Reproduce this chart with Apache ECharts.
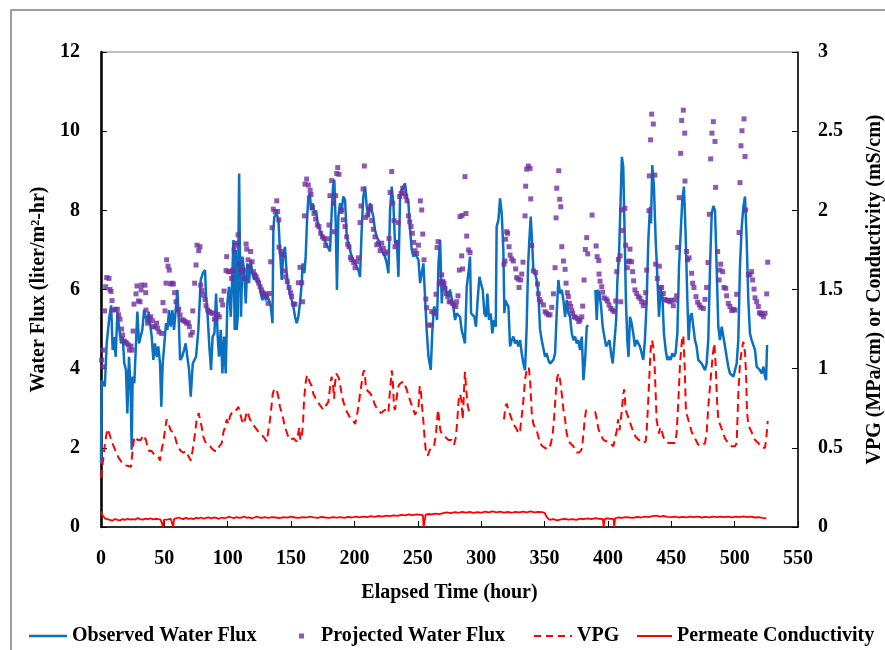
<!DOCTYPE html>
<html>
<head>
<meta charset="utf-8">
<script src="https://cdn.jsdelivr.net/npm/echarts@6/dist/echarts.min.js"></script>
<style>
  html, body { margin: 0; padding: 0; background: #fff; }
  #chart { width: 885px; height: 650px; }
</style>
</head>
<body>
<div id="chart"></div>
<script>
// [hour, liter/m2-hr]
const observedFlux = [
  [0,1.6],[0.5,3.7],[2,3.63],[3,3.55],[4.5,4.64],[6.6,5.31],[8,5.6],[9.2,4.47],[10.3,4.8],[11.6,4.3],[12.9,5.44],[14.5,4.98],[15.8,4.64],[17.1,4.81],[18.4,4.13],[19.7,3.97],[20.8,2.87],[22.1,4.3],[23.4,3.46],[24.2,1.95],[25,3.8],[26.3,3.63],[27.6,4.64],[28.7,5.44],[30,4.64],[31.3,4.81],[32.6,4.98],[34,5.48],[35.3,5.31],[36.6,5.15],[37.6,5.44],[38.7,5.15],[40,4.81],[41.3,4.22],[42.6,4.64],[43.9,4.3],[45.2,4.56],[46.6,4.13],[47.6,3.04],[48.7,4.13],[50,4.64],[51.3,5.15],[52.4,4.98],[53.7,5.48],[55,5.06],[56.3,5.48],[57.6,4.98],[59.2,5.57],[60.3,5.99],[61.3,5.31],[62.4,4.22],[64,4.3],[65.5,4.47],[66.8,4.64],[68.1,4.3],[69.5,3.97],[70.8,3.29],[72.4,4.13],[73.7,4.22],[75,4.3],[76.8,4.98],[78.7,6.24],[80.3,6.41],[82.1,6.49],[82.9,5.82],[84.2,5.31],[85.5,4.56],[86.8,3.97],[88.1,4.81],[89.5,4.89],[90.8,5.9],[92.1,4.81],[93.1,4.3],[94.5,4.98],[95.8,3.88],[97.1,4.81],[98.4,3.88],[99.7,5.65],[101,6.07],[102.4,5.31],[103.4,6.16],[104.5,7.25],[105.5,4.98],[106.3,7.0],[107.1,4.98],[107.9,5.31],[109,8.93],[109.7,6.66],[110.5,5.31],[111.6,6.83],[112.9,6.49],[114.2,5.65],[115.5,6.66],[116.8,6.16],[118.1,6.75],[119.4,6.41],[120.8,6.24],[122.1,6.41],[123.4,6.16],[124.7,6.24],[126,5.9],[127.4,5.73],[128.7,5.9],[130,5.73],[131.3,5.82],[132.6,5.73],[134,5.57],[135.3,5.15],[136,7.5],[136.8,7.84],[138.6,7.92],[140,7.76],
  [141.2,7.0],[142.6,6.24],[143.9,6.91],[145.2,7.08],[146.5,6.41],[147.8,6.07],[149.1,5.9],[150.5,5.73],[151.8,5.57],[153.1,5.31],[154.4,5.15],[155.7,5.31],[157,5.65],[158.4,6.16],[159.1,6.66],[160.5,6.41],[161.5,6.83],[162.6,7.76],[163.6,8.35],[164.9,8.43],[165.7,8.0],[167,8.18],[168.4,7.92],[169.7,8.0],[171,7.67],[172.3,7.67],[173.6,7.42],[174.9,7.42],[176.2,7.25],[177.6,7.25],[178.9,7.08],[180.7,6.96],[182,7.92],[183.1,8.6],[184.1,8.77],[185.2,7.67],[186.2,5.99],[187.3,7.84],[188.6,8.18],[189.9,8.0],[191.2,8.35],[192.6,8.26],[193.9,7.33],[195.2,7.17],[196.5,7.0],[197.8,6.83],[199.1,6.75],[200.5,6.66],[201.8,6.58],[203.1,6.49],[204.4,6.32],[205.7,7.5],[207,8.35],[208.4,8.6],[209.7,8.09],[211,7.84],[212.3,8.18],[213.6,8.22],[214.9,7.84],[216.2,7.5],[217.6,7.33],[218.9,7.25],[220.2,7.08],[221.5,7.0],[222.8,6.91],[224.1,6.83],[225.5,6.66],[226.8,6.41],[228.1,8.0],[229.4,8.6],[230.7,8.18],[232,7.17],[233.4,7.25],[234.7,6.32],[236,8.35],[237.3,8.51],[238.6,8.6],[239.9,8.68],[241.2,8.35],[242.6,8.18],[243.9,7.5],[245.2,7.0],[246.5,6.83],[247.8,6.91],[249.1,6.83],[250.5,6.75],[251.8,6.16],[254.4,6.66],[255.7,5.82],[257,4.98],[258.4,4.3],[260.2,3.97],[261.5,4.98],[262.8,5.57],[264.1,5.48],[265.2,5.23],[266.3,6.66],[267.6,7.25],[268.9,5.65],[270.2,6.24],[271.5,6.07],[272.8,5.9],[274.2,5.82],[275.4,6.0],
  [276.7,5.99],[278,5.57],[279.4,5.23],[280.7,5.4],[282,5.4],[283.3,5.31],[284.6,4.98],[285.9,4.98],[287.2,4.64],[288.6,6.07],[289.9,6.41],[291.2,6.83],[292,5.4],[293.3,5.4],[294.6,5.31],[295.9,5.06],[297.2,5.73],[298.6,6.32],[299.9,6.15],[301.2,5.99],[302.5,5.4],[303.8,5.31],[304.9,5.9],[306.2,5.23],[307.5,5.4],[308.8,4.89],[310.1,5.23],[311.5,5.06],[312.2,7.59],[313.6,7.76],[314.9,8.3],[316.2,7.92],[317.5,7.0],[318.3,5.4],[319.1,5.73],[320.1,5.65],[321.5,5.57],[322.8,4.56],[324.1,4.72],[325.4,4.81],[326.7,4.64],[328,4.72],[329.3,4.56],[330.7,4.72],[332,4.39],[333.3,4.13],[334.6,3.96],[335.9,5.06],[337,6.58],[338,7.25],[339.1,7.84],[340.1,7.25],[341.2,6.49],[342.5,6.41],[343.8,6.24],[345.1,5.9],[346.5,4.98],[347.8,4.72],[349.1,4.51],[350.4,4.3],[351.7,4.39],[353,4.22],[354.3,4.13],[355.7,4.09],[357,4.22],[358.3,4.39],[359.6,5.4],[360.9,6.24],[362.2,5.9],[363.6,5.99],[364.9,5.73],[366.2,5.31],[367.5,5.73],[368.8,5.4],[370.1,5.31],[371.5,4.89],[372.8,4.72],[374.1,4.81],[375.4,4.64],[376.7,4.72],[378,4.47],[379.4,4.81],[380.7,3.71],[382,4.22],[383.3,5.06],[384.3,5.1],[387,null],[390.1,5.99],[391.2,5.23],[392.2,5.99],[393.3,5.9],[394.6,5.57],[395.9,5.06],[397.2,4.81],[398.6,4.56],[399.9,4.56],[401.2,4.72],[402.5,4.39],[403.8,4.13],[405.1,4.13],[406.5,5.23],[407.5,6.24],[408.8,6.91],[410.1,8.35],[411,9.35],
  [412.1,9.1],[413.2,7.42],[414.2,5.73],[415.3,4.72],[416.3,4.3],[417.4,5.31],[418.7,5.15],[420,4.89],[421.3,4.56],[422.7,4.72],[424,4.77],[425.3,4.56],[426.6,4.39],[427.9,4.22],[429.2,4.72],[430.6,5.73],[431.9,7.25],[433.2,8.09],[434,7.67],[435,9.14],[436.3,8.6],[437.7,7.25],[439,6.32],[440.3,5.31],[441.6,5.99],[442.9,5.9],[444.2,4.89],[445.6,4.47],[446.9,4.22],[448.2,4.3],[449.5,4.22],[450.8,4.39],[452.1,4.3],[453.4,4.39],[454.8,4.89],[456.1,6.58],[457.4,7.42],[458.7,8.26],[460,8.6],[461.3,7.42],[462.7,5.73],[463.7,4.72],[464.8,5.31],[466.1,5.4],[467.4,5.06],[468.7,4.72],[470,4.56],[471.3,4.22],[472.7,4.22],[474,4.13],[475.3,4.05],[476.6,3.96],[477.9,4.13],[479.2,4.72],[480.6,6.58],[481.9,7.92],[483.2,8.11],[484.5,8.0],[485.8,6.58],[487.1,5.06],[488.4,4.72],[489.8,5.06],[491.1,5.06],[492.4,4.56],[493.7,4.3],[495,4.05],[496.3,3.88],[497.7,3.84],[499,3.8],[500.3,3.84],[501.6,4.13],[502.9,4.72],[504.2,6.58],[505.6,7.59],[506.9,8.09],[508.2,8.35],[509.5,7.25],[510.8,5.73],[512.1,4.89],[513.4,4.72],[514.7,4.72],[516.1,4.47],[517.4,4.05],[518.7,4.05],[520,3.96],[521.3,3.88],[522.7,4.05],[524,3.8],[524.8,3.71],[525.6,4.6]
];

// [hour, liter/m2-hr]
const projectedFlux = [
  [0.5,4.22],[1.3,4.47],[1.6,4.05],[2.9,5.46],[3.7,6.07],[4.5,6.3],[6.3,6.28],[7.1,6.0],[7.9,5.95],[8.7,5.72],[9.7,5.48],[11.3,5.5],[12.9,5.5],[13.9,5.36],[15,5.25],[16.3,5.0],[17.1,4.85],[18.1,4.7],[19.2,4.67],[20.3,4.64],[21.6,4.6],[22.4,4.47],[23.7,4.57],[24.5,4.47],[25.3,4.95],[26,5.63],[27.6,5.89],[28.4,6.09],[29.5,5.71],[30.8,5.69],[31.6,5.99],[32.1,6.11],[34.7,6.11],[35.3,5.92],[35.5,5.48],[36.8,5.15],[38.1,5.27],[39.2,5.31],[40.5,5.21],[41.3,5.06],[42.6,5.06],[43.9,5.15],[44.7,5.02],[45.8,4.93],[47.9,4.89],[48.9,5.67],[50.5,5.46],[51.3,6.16],[51.8,6.75],[52.9,6.59],[53.9,6.49],[55,6.14],[56,6.16],[57.1,6.14],[58.1,5.92],[59.2,5.69],[60.3,5.48],[61.3,5.5],[62.4,5.36],[63.7,5.23],[65,5.23],[66.3,5.19],[67.6,5.15],[68.9,5.16],[69.7,5.06],[70.8,4.85],[72.1,4.92],[72.4,5.46],[73.9,6.16],[75,6.62],[75.8,7.12],[77.1,6.98],[78.1,7.08],[78.7,6.11],[79.7,5.97],[80.8,5.86],[82.1,5.75],[82.9,5.59],[84.2,5.48],[85.5,5.44],[86.8,5.41],[88.1,5.4],[89.5,5.25],[90.8,5.27],[92.1,5.37],[93.4,5.31],[95,5.73],[96,5.61],[97.1,5.96],[98.7,6.48],[99.2,6.83],[100.5,6.45],[101.8,6.45],[103.1,6.28],[103.9,6.48],[105,7.0],[106,7.12],[107.1,7.17],[108.2,7.38],[109.2,6.66],[110.3,6.51],[111,6.45],[112.4,6.49],[113.4,6.28],[114.5,7.15],[115,7.02],[116,6.75],[117.1,6.58],[118.1,6.96],[119.2,6.7],[120.3,6.45],[121.3,6.37],[122.4,6.32],[123.4,6.24],[124.5,6.16],[125.5,6.07],[126.6,5.99],[127.6,5.92],[128.7,5.89],[129.7,5.88],[130.8,5.84],[131.8,5.65],[132.9,5.9],[133.9,6.7],[135,7.56],[136,8.03],[137.4,7.97],[138.7,8.24],[139.4,7.97],[140.3,7.76],[140.5,7.07],
  [142,6.96],[143.1,6.87],[144.7,6.47],[145.7,6.32],[147,6.2],[148.4,6.05],[149.7,5.92],[150.5,5.82],[151.8,5.63],[153.1,5.63],[155.7,6.17],[157,6.56],[158.4,6.17],[159.1,5.69],[160.5,7.86],[161,8.66],[162.3,8.79],[163.6,8.64],[165,8.51],[165.7,8.4],[166.8,8.08],[168.1,7.92],[169.4,7.78],[170.7,7.63],[172,7.59],[173.4,7.42],[174.7,7.33],[176,7.29],[177.3,7.11],[178.6,7.28],[179.9,7.63],[180.7,8.37],[182,8.75],[183.4,8.18],[184.1,7.46],[185.2,8.37],[186,8.93],[186.8,9.08],[187.8,8.91],[189.4,7.97],[189.9,8.01],[191.2,7.76],[192.6,7.59],[193.9,7.33],[194.7,7.14],[195.7,7.08],[196.8,6.81],[197.8,6.75],[199.4,6.68],[200.5,6.55],[201.8,6.7],[203.1,6.8],[204.4,7.69],[205.2,8.11],[206.8,8.54],[207.8,9.12],[208.9,7.82],[210.5,7.88],[211.8,8.01],[212.8,8.09],[213.6,7.74],[214.9,7.52],[216.2,7.33],[217.6,7.13],[218.9,7.17],[220.2,6.98],[221.5,7.17],[222.8,7.04],[224.1,6.91],[225.5,6.95],[227.3,7.29],[228.1,8.45],[229.4,8.98],[230.2,8.18],[231.2,7.74],[232,7.08],[233.4,7.17],[234.7,7.69],[235.7,8.35],[236.8,8.43],[238.1,8.56],[239.1,8.43],[240.5,8.35],[241.5,8.24],[242.6,7.86],[243.6,7.71],[244.7,7.59],[245.7,7.42],[246.8,7.19],[247.8,6.98],[249.1,6.91],[250.5,7.12],[252,8.24],[253.1,8.01],[253.9,7.4],[254.9,6.75],[256.3,5.76],[257,5.54],[258.4,5.1],[260.5,5.1],[261,5.44],[262.8,5.4],[264.4,5.88],[265.2,7.06],[266,7.21],[267,6.14],[268.1,6.2],[268.9,6.37],[269.7,6.2],[270.7,6.16],[271.5,6.03],[272.6,5.9],[273.6,5.82],[274.7,5.69],[276,5.69],[277.3,5.65],[278.6,5.6],
  [280,5.57],[280.7,5.69],[281.7,5.84],[282.8,6.49],[283.3,7.84],[284.6,6.85],[284.9,7.87],[285.4,6.52],[287.2,8.85],[288,7.92],[288.6,7.35],[290.1,7.0],[291.2,6.93],
  [318,6.64],[318.8,6.72],[319.3,7.27],[320.1,7.46],[320.9,7.42],[322,7.08],[322.8,6.87],[324.1,6.77],[325.4,6.72],[327.2,6.52],[328,6.3],[329.3,6.26],[329.9,6.05],[331.2,6.24],[332,6.39],[333,6.69],[334.6,7.86],[335.1,8.61],[335.9,9.04],[337.2,9.12],[338.6,9.06],[339.1,8.29],[339.9,7.11],[341.2,6.47],[343,6.43],[344.4,6.14],[345.1,5.89],[345.9,5.75],[347,5.69],[349.1,5.61],[350.4,5.44],[351.7,5.4],[353,5.36],[354.3,5.36],[355.7,5.55],[357,5.89],[358.3,6.55],[359.1,7.81],[359.6,8.56],[361.2,9.0],[362,8.28],[362.8,8.09],[363.6,7.08],[364.9,6.72],[366.2,6.51],[367,6.16],[368,5.92],[368.8,5.82],[369.6,5.65],[370.7,5.57],[371.5,5.46],[372.2,5.4],[373.3,5.31],[374.3,5.3],[375.9,5.27],[377,5.19],[378,5.23],[379.4,5.31],[380.1,5.58],[381.2,6.24],[382.2,7.01],[383.3,7.31],[384.1,6.9],[387.5,7.88],[390.7,7.1],[391.5,6.83],[392.8,6.73],[393,6.39],[393.8,6.21],[395.1,6.07],[395.9,5.93],[397,5.79],[398.6,5.76],[399.6,5.71],[400.9,5.61],[402.3,5.52],[403.6,5.48],[404.9,5.44],[406.2,5.71],[407,6.45],[408.3,6.76],[409.6,6.85],[410.1,5.69],
  [410.8,8.01],[411.6,7.49],[413.4,8.05],[414,7.12],[415.3,6.55],[416.1,6.7],[416.9,6.72],[417.4,7.02],[418.7,6.7],[419.5,6.45],[420.3,6.22],[421.3,5.99],[422.7,5.9],[424,5.82],[425.3,5.78],[426.6,5.69],[427.9,5.59],[429.2,5.67],[429.8,5.92],[430.6,6.49],[432.4,7.99],[432.7,8.87],[433.7,9.78],[434.5,10.43],[435.8,10.18],[437.1,8.89],[437.7,6.64],[439,6.28],[440.6,6.59],[441.1,6.05],[442.4,6.05],[443.7,5.9],[445,5.75],[446.3,5.73],[447.7,5.72],[449,5.69],[450.3,5.73],[451.6,5.59],[452.9,5.73],[454.2,5.84],[455,7.06],[456.3,8.32],[457.4,9.44],[458.2,10.27],[459.5,10.53],[460.6,9.95],[460.8,8.74],[462.1,6.96],[462.9,6.75],[464,6.8],[466.1,6.41],[466.9,6.16],[467.9,6.05],[469.5,5.82],[470.8,5.68],[472.1,5.61],[473.4,5.55],[475.3,5.52],[476.6,5.75],[477.9,6.05],[479,6.68],[480,7.9],[481.1,9.3],[482.1,9.95],[483.2,10.24],[484.5,9.74],[485,8.58],[486.6,6.96],[487.7,6.24],[488.4,6.49],[489,6.64],[490.6,6.45],[491.6,6.05],[493,6.03],[493.7,5.84],[495,5.65],[496.3,5.57],[497.7,5.47],[499,5.5],[500.3,5.48],[501.6,5.88],[503.5,7.44],[504.2,8.7],[505,9.63],[505.8,10.01],[507.4,10.31],[508.2,9.36],[508.7,8.01],[510.8,6.37],[512.1,6.37],[513.4,6.45],[514.2,6.24],[515.3,6.01],[516.1,5.79],[517.4,5.69],[518.7,5.57],[519.5,5.41],[520.6,5.4],[521.3,5.37],[522.7,5.31],[524,5.4],[525.3,5.89],[526.1,6.69]
];

// [hour, MPa/cm]
const vpg = [
  [0,0.31],[1.3,0.4],[3.2,0.53],[5,0.62],[6.6,0.59],[8.4,0.54],[11,0.49],[13.7,0.44],[16.3,0.41],[19,0.39],[21.6,0.385],[23.7,0.38],[25,0.49],[26.3,0.57],[27.6,0.58],[29,0.55],[30.3,0.54],[31.6,0.55],[32.9,0.58],[34.2,0.59],[35.5,0.55],[36.8,0.5],[38.1,0.48],[40,0.48],[41.3,0.48],[42.6,0.45],[43.9,0.45],[45.3,0.44],[46.6,0.42],[47.9,0.49],[49.2,0.54],[50.5,0.61],[51.8,0.68],[53.4,0.65],[55,0.61],[56.6,0.6],[58.1,0.58],[59.7,0.53],[61.3,0.5],[62.9,0.48],[65,0.47],[67.1,0.48],[68.9,0.45],[70.8,0.42],[72.4,0.49],[74.2,0.59],[75.5,0.68],[77.1,0.72],[78.2,0.72],[79.5,0.63],[80.8,0.57],[82.1,0.54],[84,0.52],[86,0.51],[88.1,0.49],[90,0.48],[91.8,0.48],[93.4,0.51],[95.3,0.53],[96.6,0.6],[97.9,0.63],[99.2,0.68],[100.5,0.65],[101.8,0.7],[103.1,0.72],[104.5,0.74],[105.8,0.75],[107.1,0.74],[108.4,0.76],[109.7,0.72],[111,0.68],[112.4,0.65],[113.7,0.68],[115,0.73],[116.3,0.71],[117.6,0.68],[119.5,0.65],[121.6,0.63],[123.4,0.61],[125.5,0.59],[128.2,0.57],[130.8,0.54],[132.1,0.61],[133.4,0.68],[134.5,0.76],[135.5,0.84],[136.6,0.87],[137.6,0.87],[138.6,0.87],[140,0.82],
  [141.2,0.76],[142.6,0.72],[143.9,0.68],[145.2,0.63],[146.5,0.6],[147.8,0.57],[149.1,0.55],[150.5,0.54],[151.8,0.56],[153.1,0.55],[154.4,0.54],[155.7,0.55],[156.5,0.63],[157.3,0.55],[158.4,0.57],[159.4,0.65],[160.2,0.8],[161.5,0.91],[162.6,0.96],[163.6,0.95],[165,0.91],[166.3,0.89],[167.6,0.84],[168.9,0.82],[170.2,0.8],[171.5,0.79],[172.8,0.77],[174.1,0.76],[175.5,0.74],[176.8,0.76],[178.1,0.77],[179.4,0.79],[180.2,0.84],[181,0.91],[182,0.95],[183.1,0.9],[183.9,0.81],[184.7,0.91],[185.7,0.97],[186.8,0.98],[187.8,0.94],[188.9,0.89],[189.9,0.84],[191.2,0.79],[192.6,0.76],[193.9,0.73],[195.2,0.71],[196.5,0.69],[197.8,0.68],[199.1,0.67],[200.5,0.65],[201.8,0.7],[203.1,0.76],[204.4,0.84],[205.7,0.91],[206.8,0.97],[207.6,0.99],[208.4,0.95],[209.1,0.87],[210.5,0.88],[211.8,0.85],[213.1,0.84],[214.4,0.82],[215.7,0.78],[217,0.76],[218.4,0.74],[219.7,0.73],[221,0.72],[222.3,0.73],[224.1,0.74],[225.5,0.74],[226.8,0.72],[227.6,0.82],[228.6,0.91],[229.4,0.99],[230.2,0.93],[231.2,0.76],[232,0.74],[233.1,0.8],[234.1,0.87],[235.2,0.9],[236.8,0.91],[238.6,0.92],[239.9,0.91],[241.2,0.87],[242.6,0.83],[243.9,0.8],[245.2,0.77],[246.5,0.74],[247.8,0.71],[249.1,0.71],[250.5,0.75],[251.5,0.89],[252.3,0.87],[253.1,0.78],[254.1,0.7],[254.9,0.61],[255.7,0.53],[256.5,0.47],[257.8,0.45],[259.1,0.48],[260.5,0.5],[261.8,0.51],[262.8,0.51],[263.6,0.55],[264.4,0.59],[265.2,0.68],[266,0.74],[266.8,0.68],[267.8,0.61],[268.9,0.59],[270.2,0.58],[271.5,0.57],[272.8,0.56],[274.1,0.55],[275.4,0.54],
  [276.7,0.55],[278.6,0.52],[280.1,0.57],[281.2,0.68],[282.2,0.8],[283.3,0.84],[284.4,0.8],[285.4,0.68],[285.9,0.76],[286.7,0.91],[287.2,0.98],[288,0.89],[289.1,0.78],[290.1,0.74],[291.2,0.71],[300,null],
  [318,0.68],[319.1,0.76],[320.1,0.78],[321.5,0.74],[322.8,0.71],[324.1,0.68],[325.4,0.65],[326.7,0.64],[328,0.62],[329.3,0.59],[330.7,0.61],[332,0.7],[333.3,0.8],[334.6,0.93],[335.9,0.99],[337.5,1.01],[338.6,0.93],[339.9,0.72],[341.2,0.65],[342.5,0.63],[343.8,0.61],[345.1,0.57],[346.5,0.53],[348.3,0.51],[350.4,0.5],[352.2,0.49],[353.8,0.5],[355.1,0.53],[356.5,0.59],[357.8,0.72],[359.1,0.87],[360.1,0.95],[361.2,0.97],[362.2,0.93],[363.6,0.84],[364.9,0.74],[366.2,0.68],[367.5,0.59],[368.8,0.55],[370.1,0.53],[371.5,0.52],[372.8,0.51],[374.1,0.49],[375.4,0.47],[377,0.47],[378.6,0.48],[379.6,0.5],[380.7,0.59],[381.7,0.68],[382.8,0.74],[383.6,0.72],[387,null],
  [389.9,0.73],[391.2,0.68],[392.5,0.62],[393.8,0.59],[395.1,0.57],[396.5,0.55],[397.8,0.54],[399.1,0.54],[400.4,0.53],[401.7,0.53],[403,0.52],[404.3,0.51],[405.7,0.51],[407,0.61],[408,0.68],[409.1,0.61],[410.1,0.62],[410.8,0.72],[412.1,0.84],[412.9,0.87],[414,0.74],[415.3,0.71],[416.6,0.68],[417.9,0.67],[419.2,0.62],[420.6,0.59],[421.9,0.57],[423.2,0.56],[424.5,0.55],[425.8,0.54],[427.1,0.53],[428.4,0.52],[429.8,0.54],[430.6,0.61],[431.6,0.76],[432.7,0.95],[433.7,1.12],[434.8,1.18],[435.8,1.14],[436.9,1.01],[437.7,0.84],[438.4,0.68],[439.2,0.64],[440.3,0.59],[441.3,0.63],[442.4,0.61],[443.7,0.57],[445,0.55],[446.3,0.54],[447.7,0.53],[449,0.53],[450.3,0.53],[451.6,0.52],[452.9,0.53],[454.2,0.59],[455.6,0.8],[456.9,1.03],[458.4,1.18],[459.5,1.21],[460.6,1.01],[461.6,0.72],[462.7,0.7],[463.7,0.67],[464.8,0.64],[466.1,0.6],[467.4,0.58],[468.7,0.56],[470,0.54],[471.3,0.52],[472.7,0.52],[474,0.51],[475.3,0.51],[476.6,0.53],[477.9,0.59],[479.2,0.76],[480.6,0.89],[481.9,1.01],[482.9,1.1],[484,1.16],[485,1.03],[486.1,0.8],[487.1,0.68],[488.4,0.65],[489.8,0.62],[491.1,0.59],[492.4,0.56],[493.7,0.55],[495,0.53],[496.3,0.52],[497.7,0.51],[499,0.5],[500.3,0.51],[501.6,0.53],[502.9,0.84],[504.2,1.03],[505.6,1.12],[506.9,1.17],[508.2,1.1],[509,0.97],[509.8,0.72],[510.8,0.65],[512.1,0.62],[513.4,0.6],[514.7,0.57],[516.1,0.55],[517.4,0.54],[518.7,0.53],[520,0.52],[521.3,0.5],[522.7,0.49],[524,0.5],[525.3,0.59],[526.1,0.67]
];

// [hour, mS/cm]
const conductivity = [
  [0,0.10],[1,0.075],[3,0.055],[5,0.05],[7,0.045],[9,0.04],[11,0.05],[13,0.045],[15,0.042],[17,0.05],[19,0.045],[21,0.052],[23,0.046],[25,0.05],[27,0.047],[29,0.056],[31,0.05],[33,0.047],[35,0.053],[37,0.049],[39,0.055],[41,0.048],[43,0.052],[45,0.05],[47,0.047],[48.5,0.045],[49,0],[49.6,0.045],[51,0.05],[53,0.048],[55,0.052],[56.5,0.046],[57,0],[57.6,0.05],[59,0.056],[61,0.06],[63,0.054],[65,0.05],[67,0.058],[69,0.051],[71,0.055],[73,0.05],[75,0.058],[77,0.054],[79,0.06],[81,0.052],[83,0.058],[85,0.061],[87,0.055],[89,0.06],[91,0.057],[93,0.052],[95,0.06],[97,0.056],[99,0.058],[101,0.066],[103,0.06],[105,0.056],[107,0.063],[109,0.058],[111,0.06],[113,0.066],[115,0.058],[117,0.061],[119,0.055],[121,0.06],[123,0.066],[125,0.06],[127,0.057],[129,0.062],[132,0.058],[135,0.063],[138,0.06],[141,0.056],[144,0.062],[147,0.059],[150,0.065],[153,0.06],[156,0.057],[159,0.063],[162,0.06],[165,0.066],[168,0.061],[171,0.058],[174,0.064],[177,0.06],[180,0.057],[183,0.063],[186,0.059],[189,0.062],[192,0.058],[195,0.064],[198,0.06],[201,0.066],[204,0.061],[207,0.065],[210,0.062],[213,0.068],[216,0.064],[219,0.07],[222,0.066],[225,0.072],[228,0.068],[231,0.074],[234,0.07],[237,0.077],[240,0.073],[243,0.079],[246,0.075],[249,0.08],[252,0.077],[254,0.075],[254.6,0],[255.6,0],[256.2,0.078],[258,0.082],[261,0.079],[264,0.085],[267,0.081],[270,0.088],[273,0.092],[276,0.087],[279,0.094],[282,0.09],[285,0.096],[288,0.091],[291,0.095],[294,0.089],[297,0.094],[300,0.09],[303,0.097],[306,0.092],[309,0.098],[312,0.093],[315,0.097],[318,0.091],[321,0.095],[324,0.09],[327,0.096],[330,0.092],[333,0.097],[336,0.093],[339,0.098],[342,0.092],[345,0.096],[348,0.094],[350,0.09],[352,0.06],[354,0.045],[357,0.05],[360,0.042],[363,0.048],[366,0.052],[369,0.046],[372,0.05],[375,0.045],[378,0.053],[381,0.049],[384,0.055],[387,0.05],[390,0.056],[393,0.052],[396,0.05],[396.6,0],[397.4,0.05],[399,0.055],[402,0.052],[404.5,0.05],[405,0],[405.6,0.055],[408,0.06],[411,0.058],[414,0.063],[417,0.06],[420,0.058],[423,0.064],[426,0.06],[429,0.066],[432,0.062],[435,0.068],[438,0.072],[441,0.066],[444,0.07],[447,0.064],[450,0.062],[453,0.066],[456,0.06],[459,0.064],[462,0.061],[465,0.066],[468,0.062],[471,0.065],[474,0.06],[477,0.064],[480,0.061],[483,0.066],[486,0.063],[489,0.066],[492,0.062],[495,0.065],[498,0.061],[501,0.066],[504,0.063],[507,0.067],[510,0.062],[513,0.065],[516,0.06],[519,0.063],[522,0.058],[525,0.054]
];

const FONT = "'Liberation Serif', 'Times New Roman', serif"
const labelText = { fontFamily: FONT, fontWeight: 'bold', fontSize: 20, color: '#000' }

const BLUE = '#0a70c2'
const PURPLE = '#7030a0'
const RED = '#ff0000'

// one legend block per entry, so each icon can have its own size
const legendItem = (name, left, w, h, icon, extra = {}) => ({
  left,
  top: 626,
  padding: 0,
  itemWidth: w,
  itemHeight: h,
  textStyle: { ...labelText },
  data: [{ name, icon }],
  ...extra,
})

const chart = echarts.init(document.getElementById('chart'))

chart.setOption({
  animation: false,
  backgroundColor: '#fff',
  textStyle: { fontFamily: FONT },
  graphic: [
    {
      type: 'rect',
      x: 11,
      y: 10,
      shape: { x: 0, y: 0, width: 900, height: 700 },
      style: { fill: 'none', stroke: '#7f7f7f', lineWidth: 1.5 },
      silent: true,
      z: -10,
    },
  ],
  grid: {
    left: 101,
    right: 87,
    top: 52,
    bottom: 123,
    outerBoundsMode: 'none',
    show: true,
    borderColor: '#808080',
    borderWidth: 1,
  },
  legend: [
    legendItem('Observed Water Flux', 29, 38, 2.5, 'rect'),
    legendItem('Projected Water Flux', 299, 5, 5, 'rect', { textStyle: { ...labelText, padding: [0, 0, 0, 12] } }),
    legendItem('VPG', 534, 38, 2, 'path://M0,0h7v2h-7z M12,0h7v2h-7z M24,0h7v2h-7z M36,0h2v2h-2z', { symbolKeepAspect: false }),
    legendItem('Permeate Conductivity', 637, 35, 2, 'rect'),
  ],
  xAxis: {
    type: 'value',
    min: 0,
    max: 550,
    interval: 50,
    axisLine: { onZero: false, lineStyle: { color: '#000', width: 1.5 } },
    axisTick: { inside: true, length: 6, lineStyle: { color: '#000' } },
    axisLabel: { ...labelText, margin: 22 },
    splitLine: { show: false },
    name: 'Elapsed Time (hour)',
    nameLocation: 'middle',
    nameGap: 56,
    nameTextStyle: { ...labelText },
  },
  yAxis: [
    {
      type: 'value',
      position: 'left',
      min: 0,
      max: 12,
      interval: 2,
      axisLine: { show: true, lineStyle: { color: '#000', width: 2.5 } },
      axisTick: { show: true, inside: true, length: 6, lineStyle: { color: '#000' } },
      axisLabel: { ...labelText, margin: 21 },
      splitLine: { show: false },
      name: 'Water Flux (liter/m²-hr)',
      nameLocation: 'middle',
      nameRotate: 90,
      nameGap: 46,
      nameTextStyle: { ...labelText },
    },
    {
      type: 'value',
      position: 'right',
      min: 0,
      max: 3,
      interval: 0.5,
      axisLine: { show: true, lineStyle: { color: '#000', width: 1.5 } },
      axisTick: { show: true, inside: true, length: 6, lineStyle: { color: '#000' } },
      axisLabel: { ...labelText, margin: 20 },
      splitLine: { show: false },
      name: 'VPG (MPa/cm) or Conductivity (mS/cm)',
      nameLocation: 'middle',
      nameRotate: 90,
      nameGap: 67,
      nameTextStyle: { ...labelText },
    },
  ],
  series: [
    {
      name: 'Observed Water Flux',
      type: 'line',
      yAxisIndex: 0,
      data: observedFlux,
      symbol: 'none',
      connectNulls: false,
      lineStyle: { color: BLUE, width: 2.5 },
      itemStyle: { color: BLUE },
      z: 2,
    },
    {
      name: 'Projected Water Flux',
      type: 'scatter',
      yAxisIndex: 0,
      data: projectedFlux,
      symbol: 'rect',
      symbolSize: 5,
      itemStyle: { color: PURPLE },
      z: 3,
    },
    {
      name: 'VPG',
      type: 'line',
      yAxisIndex: 1,
      data: vpg,
      symbol: 'none',
      connectNulls: false,
      lineStyle: { color: RED, width: 2, type: [8, 5] },
      itemStyle: { color: RED },
      z: 2,
    },
    {
      name: 'Permeate Conductivity',
      type: 'line',
      yAxisIndex: 1,
      data: conductivity,
      symbol: 'none',
      lineStyle: { color: RED, width: 1.8 },
      itemStyle: { color: RED },
      z: 2,
    },
  ],
})
</script>
</body>
</html>
